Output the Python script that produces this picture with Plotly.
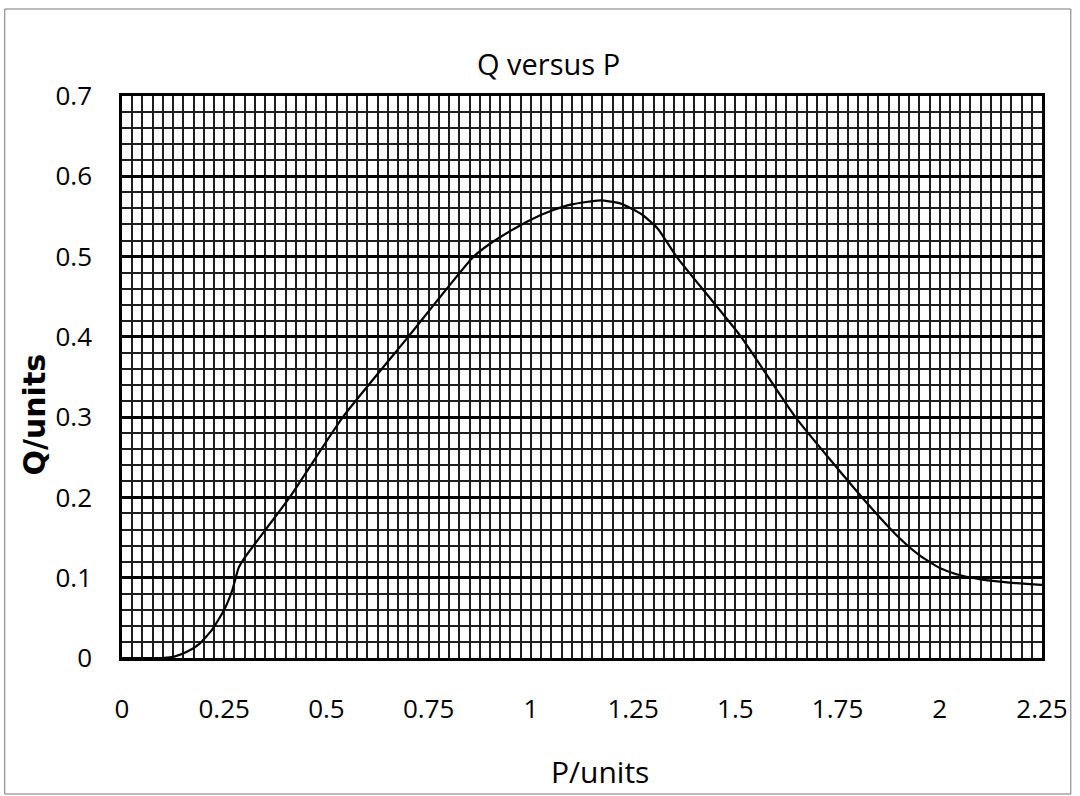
import plotly.graph_objects as go

P = [0.0, 0.05, 0.10, 0.13, 0.16, 0.19, 0.22, 0.25, 0.27, 0.285, 0.30, 0.41, 0.54, 0.70, 0.86, 0.90,
     0.95, 1.0, 1.05, 1.10, 1.17, 1.22, 1.27, 1.31, 1.356, 1.514, 1.647, 1.81, 1.90, 1.95, 2.0, 2.05, 2.10, 2.17, 2.25]
Q = [0.0, 0.0, 0.0, 0.002, 0.008, 0.018, 0.035, 0.06, 0.085, 0.112, 0.125, 0.2, 0.3, 0.4, 0.5, 0.516,
     0.532, 0.546, 0.557, 0.565, 0.570, 0.566, 0.553, 0.535, 0.5, 0.4, 0.3, 0.2, 0.15, 0.128, 0.112, 0.103, 0.098, 0.094, 0.091]

x_ticks = [0, 0.25, 0.5, 0.75, 1, 1.25, 1.5, 1.75, 2, 2.25]
x_labels = ["0", "0.25", "0.5", "0.75", "1", "1.25", "1.5", "1.75", "2", "2.25"]
y_ticks = [0, 0.1, 0.2, 0.3, 0.4, 0.5, 0.6, 0.7]
y_labels = ["0", "0.1", "0.2", "0.3", "0.4", "0.5", "0.6", "0.7"]

fig = go.Figure()
fig.add_trace(go.Scatter(x=P, y=Q, mode="lines", line=dict(color="black", width=2.2, shape="spline", smoothing=0.5),
                         showlegend=False, hoverinfo="skip"))

L, R, T, B = 122, 32, 96, 138
W, H = 1080, 796
pw, ph = W - L - R, H - T - B
TXT = "Open Sans, Liberation Sans"

fig.update_layout(
    width=W, height=H,
    margin=dict(l=L, r=R, t=T, b=B),
    paper_bgcolor="white", plot_bgcolor="white",
    font=dict(family=TXT, color="black"),
)

# titles placed as annotations to match the scanned positions
fig.add_annotation(text="Q versus P", xref="paper", yref="paper",
                   x=(551 - L) / pw, y=(H - B - 64) / ph, xanchor="center", yanchor="middle",
                   showarrow=False, font=dict(family=TXT, size=29, color="black"))
fig.add_annotation(text="P/units", xref="paper", yref="paper",
                   x=(603 - L) / pw, y=(H - B - 771) / ph, xanchor="center", yanchor="middle",
                   showarrow=False, font=dict(family=TXT, size=30, color="black"))
fig.add_annotation(text="<b>Q/units</b>", xref="paper", yref="paper", textangle=-90,
                   x=(33 - L) / pw, y=(H - B - 415) / ph, xanchor="center", yanchor="middle",
                   showarrow=False, font=dict(family="DejaVu Sans", size=30, color="black"))

fig.update_xaxes(
    range=[0, 2.25], tickvals=x_ticks, ticktext=x_labels,
    tickfont=dict(size=26, color="black", family=TXT), ticks="", ticklabelstandoff=26,
    showgrid=True, gridcolor="#1e1e1e", gridwidth=1.6,
    minor=dict(dtick=0.025, tick0=0, showgrid=True, gridcolor="#1e1e1e", gridwidth=1.6),
    showline=True, linecolor="black", linewidth=2.5, mirror=True, zeroline=False,
    fixedrange=True,
)
fig.update_yaxes(
    range=[0, 0.7], tickvals=y_ticks, ticktext=y_labels,
    tickfont=dict(size=26, color="black", family=TXT), ticks="", ticklabelstandoff=22,
    showgrid=True, gridcolor="black", gridwidth=2.6,
    minor=dict(dtick=0.02, tick0=0, showgrid=True, gridcolor="#1e1e1e", gridwidth=1.6),
    showline=True, linecolor="black", linewidth=2.5, mirror=True, zeroline=False,
    fixedrange=True,
)

# outer frame of the scanned page
fig.add_shape(type="rect", xref="paper", yref="paper",
              x0=(4 - L) / pw, x1=(1077 - L) / pw, y0=(H - B - 794) / ph, y1=(H - B - 9) / ph,
              line=dict(color="#777", width=1), layer="below")

fig.write_html("out.html", config={"displayModeBar": False},
               post_script="document.body.style.margin='0';document.body.style.overflow='hidden';")
